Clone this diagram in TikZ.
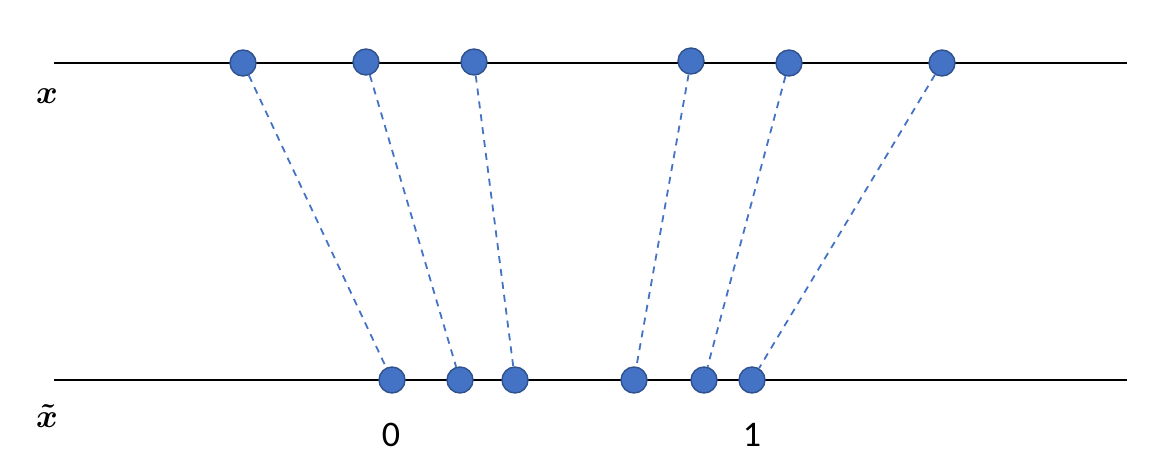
\documentclass[tikz,border=0pt]{standalone}
\usepackage{amsmath}
\usepackage{graphicx}
\usepackage{fontspec}
\newfontfamily\digitfont{Carlito}
\usepackage{tikz}
\usetikzlibrary{positioning}
\definecolor{dotCol}{HTML}{4472C4}
\definecolor{dotEdge}{HTML}{2F528F}
\newcommand{\biglbl}[1]{\scalebox{3.3}{$\boldsymbol{#1}$}}
\tikzset{
  axisline/.style={line width=1.6pt, black},
  pt/.style={circle, fill=dotCol, draw=dotEdge, line width=1.4pt, minimum size=26pt, inner sep=0pt},
  link/.style={dotCol, dash pattern=on 7pt off 6pt, line width=1.8pt},
  axlbl/.style={inner sep=0pt},
  tick/.style={font=\digitfont\fontsize{36}{40}\selectfont, inner sep=0pt},
}
\begin{document}
\begin{tikzpicture}[x=1pt,y=-1pt]
  \useasboundingbox (0,0) rectangle (1170,472);
  % the two axes
  \coordinate (xl) at (54,63);  \coordinate (xr) at (1127,63);
  \coordinate (tl) at (54,380); \coordinate (tr) at (1127,380);
  \draw[axisline] (xl) -- (xr);
  \draw[axisline] (tl) -- (tr);
  \node[axlbl] (xlab) at (47,96) {\biglbl{x}};
  \node[axlbl] (tlab) at (47,416) {\biglbl{\tilde{x}}};

  % points before and after
  \foreach \i/\xa/\ya in {1/243/63, 2/366/62, 3/474/62, 4/691/61, 5/789/63, 6/942/63}
    {\node[pt] (t\i) at (\xa,\ya) {};}
  \foreach \i/\xb in {1/392, 2/460, 3/515, 4/634, 5/704, 6/752}
    {\node[pt] (b\i) at (\xb,380) {};}
  \foreach \i in {1,...,6}{\draw[link] (t\i) -- (b\i);}

  \node[tick] (zero) at (391,435) {0};
  \node[tick] (one) at (752,435) {1};
\end{tikzpicture}
\end{document}
